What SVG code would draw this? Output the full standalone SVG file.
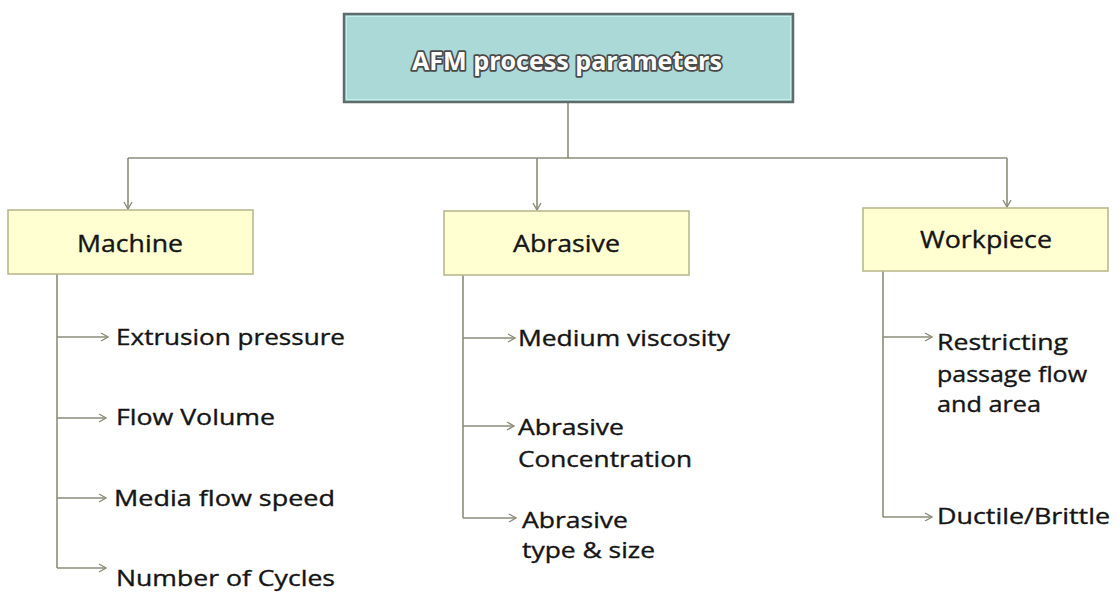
<svg xmlns="http://www.w3.org/2000/svg" width="1120" height="592" viewBox="0 0 1120 592">
<style>
.conn{fill:none;stroke:#8c8c7a;stroke-width:1.6}
.cat{fill:#ffffd2;stroke:#b9b98f;stroke-width:1.6}
.lbl{font-family:"Open Sans","DejaVu Sans",sans-serif;font-size:21px;fill:#151515;stroke:#151515;stroke-width:0.35}
.cl{font-family:"Open Sans","DejaVu Sans",sans-serif;font-size:23px;fill:#151515;stroke:#151515;stroke-width:0.35}
.title{font-family:"Open Sans","DejaVu Sans",sans-serif;font-size:25px;font-weight:bold;fill:#ffffff;stroke:#4a4a4a;stroke-width:3.5;paint-order:stroke;stroke-linejoin:round}
</style>
<defs>
<marker id="ah" markerWidth="9" markerHeight="10" refX="8" refY="5" orient="auto" markerUnits="userSpaceOnUse">
<path d="M1,1 L8,5 L1,9" fill="none" stroke="#8c8c7a" stroke-width="1.4"/>
</marker>
</defs>
<g id="connectors">
<path class="conn" d="M568 102 V158"/>
<path class="conn" d="M128 158 H1007"/>
<path class="conn" d="M128 158 V209" marker-end="url(#ah)"/>
<path class="conn" d="M537 158 V210" marker-end="url(#ah)"/>
<path class="conn" d="M1007 158 V207" marker-end="url(#ah)"/>
<path class="conn" d="M57 274 V568"/>
<path class="conn" d="M57 337 H108" marker-end="url(#ah)"/>
<path class="conn" d="M57 418 H106" marker-end="url(#ah)"/>
<path class="conn" d="M57 498 H106" marker-end="url(#ah)"/>
<path class="conn" d="M57 568 H106" marker-end="url(#ah)"/>
<path class="conn" d="M463 275 V518"/>
<path class="conn" d="M463 338 H515" marker-end="url(#ah)"/>
<path class="conn" d="M463 426 H514" marker-end="url(#ah)"/>
<path class="conn" d="M463 518 H516" marker-end="url(#ah)"/>
<path class="conn" d="M883 271 V517"/>
<path class="conn" d="M883 337 H932" marker-end="url(#ah)"/>
<path class="conn" d="M883 517 H932" marker-end="url(#ah)"/>
</g>
<g id="root">
<rect x="344" y="14" width="449" height="88" fill="#aad9d8" stroke="#5d6b6a" stroke-width="2.5"/>
<rect x="346.5" y="16.5" width="444" height="83" fill="none" stroke="#c4efee" stroke-width="1"/>
<text class="title" x="412" y="70" textLength="310" lengthAdjust="spacingAndGlyphs">AFM process parameters</text>
</g>
<g id="machine">
<rect class="cat" x="8" y="210" width="245" height="64"/>
<text class="cl" x="77" y="252" textLength="106" lengthAdjust="spacingAndGlyphs">Machine</text>
</g>
<g id="abrasive">
<rect class="cat" x="444" y="211" width="245" height="64"/>
<text class="cl" x="513" y="252" textLength="107" lengthAdjust="spacingAndGlyphs">Abrasive</text>
</g>
<g id="workpiece">
<rect class="cat" x="863" y="208" width="245" height="63"/>
<text class="cl" x="920" y="248" textLength="132" lengthAdjust="spacingAndGlyphs">Workpiece</text>
</g>
<g id="extrusion-pressure"><text class="lbl" x="116" y="345" textLength="229" lengthAdjust="spacingAndGlyphs">Extrusion pressure</text></g>
<g id="flow-volume"><text class="lbl" x="116" y="425" textLength="159" lengthAdjust="spacingAndGlyphs">Flow Volume</text></g>
<g id="media-flow-speed"><text class="lbl" x="114" y="506" textLength="221" lengthAdjust="spacingAndGlyphs">Media flow speed</text></g>
<g id="number-of-cycles"><text class="lbl" x="116" y="586" textLength="219" lengthAdjust="spacingAndGlyphs">Number of Cycles</text></g>
<g id="medium-viscosity"><text class="lbl" x="518" y="346" textLength="212" lengthAdjust="spacingAndGlyphs">Medium viscosity</text></g>
<g id="abrasive-concentration">
<text class="lbl" x="518" y="435" textLength="106" lengthAdjust="spacingAndGlyphs">Abrasive</text>
<text class="lbl" x="518" y="467" textLength="174" lengthAdjust="spacingAndGlyphs">Concentration</text>
</g>
<g id="abrasive-type-size">
<text class="lbl" x="522" y="528" textLength="106" lengthAdjust="spacingAndGlyphs">Abrasive</text>
<text class="lbl" x="522" y="558" textLength="133" lengthAdjust="spacingAndGlyphs">type &amp; size</text>
</g>
<g id="restricting">
<text class="lbl" x="937" y="350" textLength="131" lengthAdjust="spacingAndGlyphs">Restricting</text>
<text class="lbl" x="937" y="382" textLength="150" lengthAdjust="spacingAndGlyphs">passage flow</text>
<text class="lbl" x="937" y="412" textLength="104" lengthAdjust="spacingAndGlyphs">and area</text>
</g>
<g id="ductile-brittle"><text class="lbl" x="937" y="524" textLength="173" lengthAdjust="spacingAndGlyphs">Ductile/Brittle</text></g>
</svg>
